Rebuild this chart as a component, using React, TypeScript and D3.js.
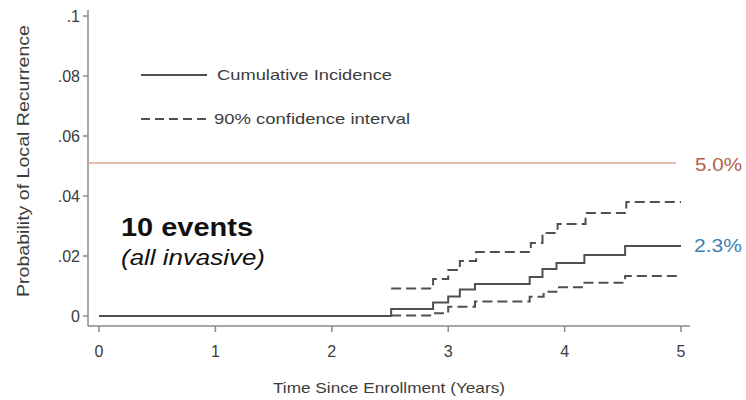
import React from "react";
import * as d3 from "d3";

const xTicks = [0, 1, 2, 3, 4, 5];
const yTicks = [0, 0.02, 0.04, 0.06, 0.08, 0.1];
const yTickLabels = ["0", ".02", ".04", ".06", ".08", ".1"];

const ciTimes = [0, 2.51, 2.87, 3.0, 3.1, 3.23, 3.7, 3.81, 3.93, 4.17, 4.52, 5.0];
const ciValues = [0, 0.0023, 0.0045, 0.0065, 0.0088, 0.0107, 0.013, 0.0157, 0.0177, 0.0203, 0.0233, 0.0233];

const upperTimes = [2.51, 2.87, 3.0, 3.1, 3.24, 3.71, 3.81, 3.94, 4.18, 4.53, 5.0];
const upperValues = [0.0092, 0.0123, 0.0153, 0.0183, 0.0213, 0.0243, 0.0277, 0.0307, 0.0343, 0.038, 0.038];

const lowerTimes = [2.51, 2.87, 3.0, 3.23, 3.7, 3.82, 3.93, 4.17, 4.52, 5.0];
const lowerValues = [0.0002, 0.0009, 0.0031, 0.0048, 0.0064, 0.0081, 0.0096, 0.0111, 0.0133, 0.0133];

const refValue = 0.051;
const refLabel = "5.0%";
const endLabel = "2.3%";

export default function App() {
  const W = 746, H = 400;
  const x = d3.scaleLinear().domain([0, 5]).range([99, 681]);
  const y = d3.scaleLinear().domain([0, 0.1]).range([316, 16]);

  const line = d3
    .line<[number, number]>()
    .x((d) => x(d[0]))
    .y((d) => y(d[1]))
    .curve(d3.curveStepAfter);

  const ci = line(ciTimes.map((t, i) => [t, ciValues[i]]) as [number, number][]) || "";
  const up = line(upperTimes.map((t, i) => [t, upperValues[i]]) as [number, number][]) || "";
  const lo = line(lowerTimes.map((t, i) => [t, lowerValues[i]]) as [number, number][]) || "";

  const font = "'Liberation Sans', Arial, sans-serif";
  const axisColor = "#8a8a8a";
  const textColor = "#3c3c3c";
  const curveColor = "#505050";
  const axisY = 326;
  const axisX = 88;

  return (
    <svg width={W} height={H} style={{ position: "absolute", left: 0, top: 0, background: "#fff" }} fontFamily={font}>
      {/* axes */}
      <line x1={axisX} x2={axisX} y1={10} y2={axisY} stroke={axisColor} strokeWidth={1.5} />
      <line x1={axisX} x2={690} y1={axisY} y2={axisY} stroke={axisColor} strokeWidth={1.5} />
      {yTicks.map((v, i) => (
        <g key={"y" + i}>
          <line x1={axisX - 5} x2={axisX} y1={y(v)} y2={y(v)} stroke={axisColor} strokeWidth={1.5} />
          <text x={80} y={y(v)} dy="0.36em" textAnchor="end" fontSize={16} fill={textColor}>
            {yTickLabels[i]}
          </text>
        </g>
      ))}
      {xTicks.map((v, i) => (
        <g key={"x" + i}>
          <line x1={x(v)} x2={x(v)} y1={axisY} y2={axisY + 6} stroke={axisColor} strokeWidth={1.5} />
          <text x={x(v)} y={351} dy="0.36em" textAnchor="middle" fontSize={16} fill={textColor}>
            {String(v)}
          </text>
        </g>
      ))}
      <text x={389} y={388} dy="0.36em" textAnchor="middle" fontSize={15} fill={textColor}
        textLength={232} lengthAdjust="spacingAndGlyphs">
        Time Since Enrollment (Years)
      </text>
      <text transform={`translate(23,161) rotate(-90)`} textAnchor="middle" dy="0.36em" fontSize={16} fill={textColor}
        textLength={272} lengthAdjust="spacingAndGlyphs">
        Probability of Local Recurrence
      </text>

      {/* reference line */}
      <line x1={axisX} x2={676} y1={y(refValue)} y2={y(refValue)} stroke="#d9a595" strokeWidth={1.6} />
      <text x={695} y={y(refValue) + 2} dy="0.36em" fontSize={18} fill="#b3604c"
        textLength={47} lengthAdjust="spacingAndGlyphs">
        {refLabel}
      </text>
      <text x={694} y={y(ciValues[ciValues.length - 1]) - 1} dy="0.36em" fontSize={18} fill="#3f80b8"
        textLength={48} lengthAdjust="spacingAndGlyphs">
        {endLabel}
      </text>

      {/* curves */}
      <path d={up} fill="none" stroke={curveColor} strokeWidth={2} strokeDasharray="10,5" />
      <path d={lo} fill="none" stroke={curveColor} strokeWidth={2} strokeDasharray="10,5" />
      <path d={ci} fill="none" stroke={curveColor} strokeWidth={2} />

      {/* legend */}
      <line x1={141} x2={207} y1={75} y2={75} stroke={curveColor} strokeWidth={2} />
      <text x={217} y={75} dy="0.36em" fontSize={15} fill={textColor} textLength={175} lengthAdjust="spacingAndGlyphs">
        Cumulative Incidence
      </text>
      <line x1={141} x2={207} y1={119} y2={119} stroke={curveColor} strokeWidth={2} strokeDasharray="9,5" />
      <text x={214} y={119} dy="0.36em" fontSize={15} fill={textColor} textLength={196} lengthAdjust="spacingAndGlyphs">
        90% confidence interval
      </text>

      {/* annotation */}
      <text x={121} y={236} fontSize={25} fontWeight="bold" fill="#111" textLength={132} lengthAdjust="spacingAndGlyphs">
        10 events
      </text>
      <text x={121} y={265} fontSize={22} fontStyle="italic" fill="#111" textLength={144} lengthAdjust="spacingAndGlyphs">
        (all invasive)
      </text>
    </svg>
  );
}
